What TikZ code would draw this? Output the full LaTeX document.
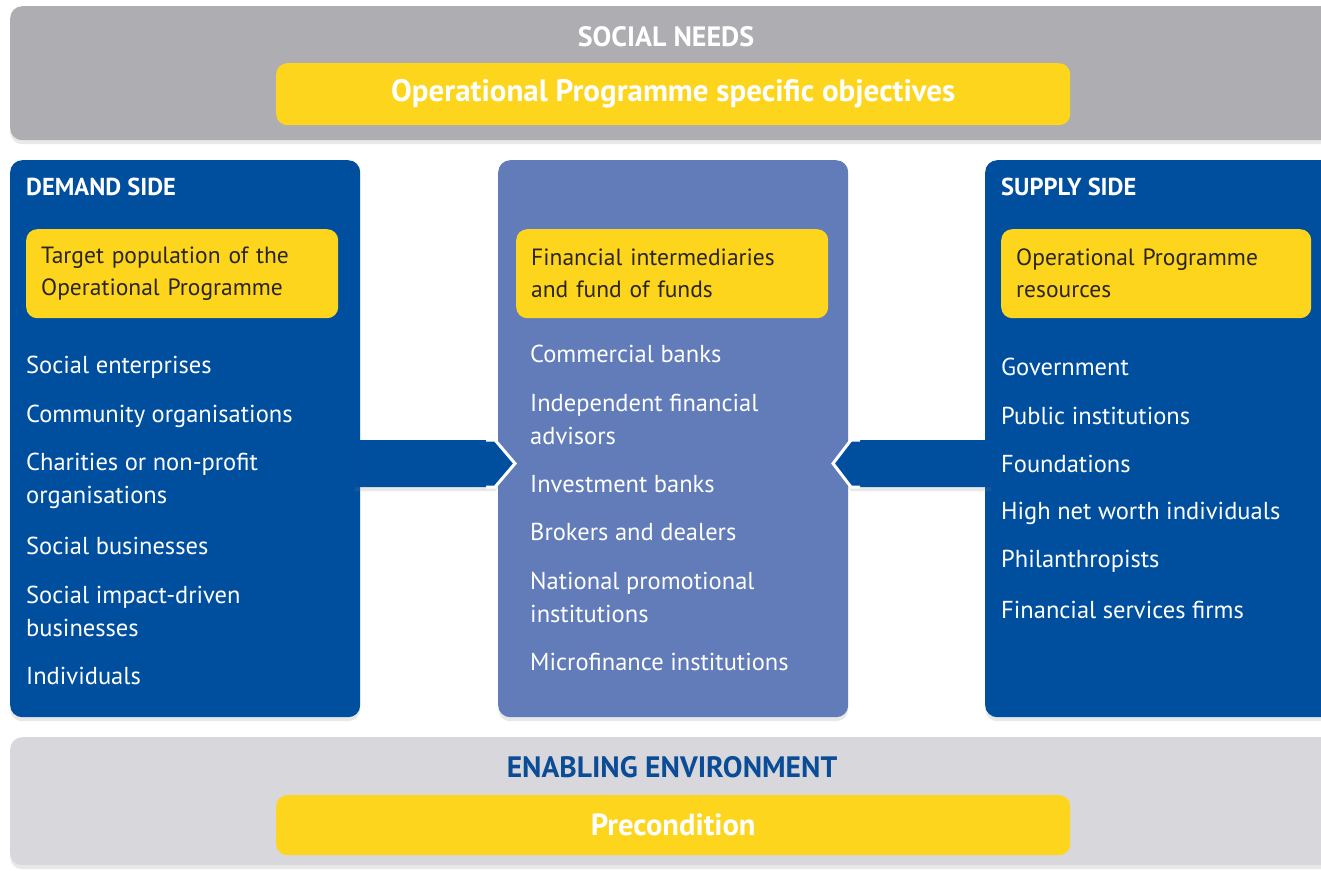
\documentclass[tikz,border=0pt]{standalone}
\usepackage{fontspec}
\setmainfont{PT Sans}
\usetikzlibrary{shadows}
\definecolor{gtop}{HTML}{AEADB2}
\definecolor{gbot}{HTML}{D8D8DC}
\definecolor{dblue}{HTML}{004F9E}
\definecolor{mblue}{HTML}{617CB8}
\definecolor{yel}{HTML}{FCD51C}
\definecolor{ytext}{HTML}{2A2522}
\definecolor{navy}{HTML}{0B4C97}
\tikzset{
  shad/.style={drop shadow={opacity=0.18,shadow xshift=0pt,shadow yshift=-4pt}},
  panel/.style={rounded corners=12pt, inner sep=0pt, anchor=north west, shad},
  ybig/.style={fill=yel, rounded corners=11pt, inner sep=0pt, anchor=north west,
    text=white, font=\fontsize{31}{35}\selectfont\bfseries},
  ysmall/.style={fill=yel, rounded corners=11pt, anchor=north west, inner xsep=15pt,
    align=left, text=ytext, font=\fontsize{23.5}{32}\selectfont, minimum height=89pt},
  head/.style={text=white, font=\fontsize{24.5}{28}\selectfont\bfseries, anchor=west, inner sep=0pt},
  title/.style={font=\fontsize{28}{32}\selectfont\bfseries, inner sep=0pt, anchor=center},
  item/.style={text=white, font=\fontsize{24.5}{33}\selectfont, anchor=west, inner sep=0pt, align=left},
}
\begin{document}
\begin{tikzpicture}[x=1pt,y=-1pt]
\useasboundingbox (0,0) rectangle (1321,870);
\clip (0,0) rectangle (1321,870);

% top band
\node[panel, fill=gtop, minimum width=1340pt, minimum height=134pt] (needs) at (10,6) {};
\node[title, text=white] (needsT) at (666,37) {SOCIAL NEEDS};
\node[ybig, minimum width=794pt, minimum height=62pt] (obj) at (276,63) {Operational Programme specific objectives};

% bottom band
\node[panel, fill=gbot, minimum width=1340pt, minimum height=128pt] (env) at (10,737) {};
\node[title, text=navy, font=\fontsize{29.5}{33}\selectfont\bfseries] (envT) at (672,767) {ENABLING ENVIRONMENT};
\node[ybig, minimum width=794pt, minimum height=60pt, font=\fontsize{30.5}{34}\selectfont\bfseries] (pre) at (276,795) {Precondition};

% columns
\node[panel, fill=dblue, minimum width=350pt, minimum height=557pt] (demand) at (10,160) {};
\node[panel, fill=mblue, minimum width=350pt, minimum height=557pt] (inter) at (498,160) {};
\node[panel, fill=dblue, minimum width=360pt, minimum height=557pt] (supply) at (985,160) {};

% arrows
\coordinate (aL) at (demand.east |- 0,463.5);
\coordinate (aR) at (supply.west |- 0,463.5);
\fill[dblue, shad] ([xshift=-6pt,yshift=23.5pt]aL) -- (495,440) -- (515,463.5) -- (495,487) -- ([xshift=-6pt,yshift=-23.5pt]aL) -- cycle;
\draw[white, line width=3pt, line join=miter] (486,440) -- (495,440) -- (515,463.5) -- (495,487) -- (486,487);
\fill[dblue, shad] ([xshift=6pt,yshift=23.5pt]aR) -- (851,440) -- (833,463.5) -- (851,487) -- ([xshift=6pt,yshift=-23.5pt]aR) -- cycle;
\draw[white, line width=3pt, line join=miter] (860,440) -- (851,440) -- (833,463.5) -- (851,487) -- (860,487);

% demand side
\node[head] (dT) at (26,187) {DEMAND SIDE};
\node[ysmall, text width=282pt] (dY) at (26,229) {Target population of the\\Operational Programme};
\node[item] (d1) at (26,367) {Social enterprises};
\node[item] (d2) at (26,416) {Community organisations};
\node[item] (d3) at (26,481) {Charities or non-profit\\organisations};
\node[item] (d4) at (26,546) {Social businesses};
\node[item] (d5) at (26,611) {Social impact-driven\\businesses};
\node[item] (d6) at (26,676) {Individuals};

% intermediaries
\node[ysmall, text width=282pt] (iY) at (516,229) {Financial intermediaries\\and fund of funds};
\node[item] (i1) at (530,354) {Commercial banks};
\node[item] (i2) at (530,419) {Independent financial\\advisors};
\node[item] (i3) at (530,484) {Investment banks};
\node[item] (i4) at (530,532) {Brokers and dealers};
\node[item] (i5) at (530,597) {National promotional\\institutions};
\node[item] (i6) at (530,662) {Microfinance institutions};

% supply side
\node[head] (sT) at (1001,187) {SUPPLY SIDE};
\node[ysmall, text width=280pt] (sY) at (1001,229) {Operational Programme\\resources};
\node[item] (s1) at (1001,367) {Government};
\node[item] (s2) at (1001,416) {Public institutions};
\node[item] (s3) at (1001,464) {Foundations};
\node[item] (s4) at (1001,513) {High net worth individuals};
\node[item] (s5) at (1001,561) {Philanthropists};
\node[item] (s6) at (1001,610) {Financial services firms};
\end{tikzpicture}
\end{document}
